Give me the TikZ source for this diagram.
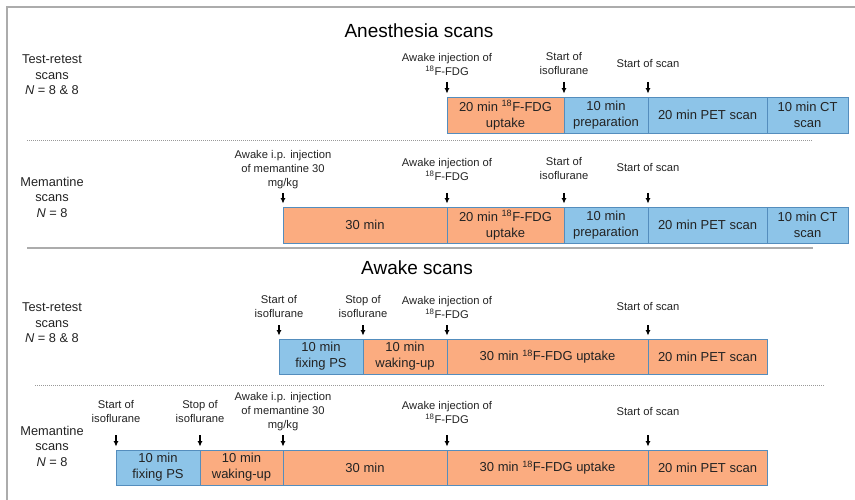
\documentclass[tikz,border=0pt]{standalone}
\usepackage{fontspec}
\setmainfont{Liberation Sans}
\usetikzlibrary{arrows.meta}

\definecolor{segorange}{RGB}{251,172,128}
\definecolor{segblue}{RGB}{141,196,232}
\definecolor{segline}{RGB}{84,141,189}
\definecolor{framegray}{RGB}{172,172,172}
\definecolor{inkgray}{RGB}{35,35,35}

\tikzset{
  seg/.style={draw=segline, line width=0.8pt, minimum height=36pt, inner sep=0pt,
    align=center, text=inkgray, font=\fontsize{13}{16}\selectfont},
  oseg/.style={seg, fill=segorange},
  bseg/.style={seg, fill=segblue},
  note/.style={align=center, inner sep=0pt, text=inkgray, font=\fontsize{11.2}{14}\selectfont},
  grp/.style={align=center, inner sep=0pt, text=inkgray, font=\fontsize{12.8}{15.5}\selectfont},
  hd/.style={inner sep=0pt, text=black, font=\fontsize{19}{22}\selectfont},
  tick/.style={-{Latex[length=5.5pt,width=5pt]}, line width=1.2pt, shorten >=3pt},
}

\newcommand{\fdg}{\textsuperscript{18}F-FDG}

\begin{document}
\begin{tikzpicture}[x=1pt,y=-1pt]
\useasboundingbox (0,0) rectangle (855,500);
% frame and separators
\draw[framegray, line width=1.6pt] (855,7) -- (7,7) -- (7,500);
\draw[framegray, line width=1.8pt] (27,248) -- (813,248);
\draw[gray!80, line width=0.6pt, dash pattern=on 1pt off 1pt] (27,140) -- (813,140);
\draw[gray!80, line width=0.6pt, dash pattern=on 1pt off 1pt] (35,385) -- (824,385);

% titles
\node[hd] (hanes) at (419,31) {Anesthesia scans};
\node[hd] (hawake) at (417,268) {Awake scans};

% group labels
\node[grp] (g1) at (52,75) {Test-retest\\scans\\\textit{N} = 8 \& 8};
\node[grp] (g2) at (52,197) {Memantine\\scans\\\textit{N} = 8};
\node[grp] (g3) at (52,323) {Test-retest\\scans\\\textit{N} = 8 \& 8};
\node[grp] (g4) at (52,446) {Memantine\\scans\\\textit{N} = 8};

% anesthesia, test-retest
\node[oseg, minimum width=117pt] (b11) at (505.5,115) {20 min \fdg\\uptake};
\node[bseg, minimum width=84pt] (b12) at (606,115) {10 min\\preparation};
\node[bseg, minimum width=119pt] (b13) at (707.5,115) {20 min PET scan};
\node[bseg, minimum width=81pt] (b14) at (807.5,115) {10 min CT\\scan};
\node[note] (n11) at (447,64) {Awake injection of\\\fdg};
\node[note] (n12) at (564,64) {Start of\\isoflurane};
\node[note] (n13) at (648,64) {Start of scan};
\coordinate (t11) at (447,82);
\coordinate (t12) at (564,82);
\coordinate (t13) at (648,82);
\draw[tick] (t11) -- (t11 |- b11.north);
\draw[tick] (t12) -- (t12 |- b12.north);
\draw[tick] (t13) -- (t13 |- b13.north);

% anesthesia, memantine
\node[oseg, minimum width=164pt] (b21) at (365,225) {30 min};
\node[oseg, minimum width=117pt] (b22) at (505.5,225) {20 min \fdg\\uptake};
\node[bseg, minimum width=84pt] (b23) at (606,225) {10 min\\preparation};
\node[bseg, minimum width=119pt] (b24) at (707.5,225) {20 min PET scan};
\node[bseg, minimum width=81pt] (b25) at (807.5,225) {10 min CT\\scan};
\node[note] (n21) at (283,170) {Awake i.p. injection\\of memantine 30\\mg/kg};
\node[note] (n22) at (447,169) {Awake injection of\\\fdg};
\node[note] (n23) at (564,169) {Start of\\isoflurane};
\node[note] (n24) at (648,168) {Start of scan};
\coordinate (t21) at (283,193);
\coordinate (t22) at (447,193);
\coordinate (t23) at (564,193);
\coordinate (t24) at (648,193);
\draw[tick] (t21) -- (t21 |- b21.north);
\draw[tick] (t22) -- (t22 |- b22.north);
\draw[tick] (t23) -- (t23 |- b23.north);
\draw[tick] (t24) -- (t24 |- b24.north);

% awake, test-retest
\node[bseg, minimum width=84pt, minimum height=35pt] (c11) at (321,356.5) {10 min\\fixing PS};
\node[oseg, minimum width=84pt, minimum height=35pt] (c12) at (405,356.5) {10 min\\waking-up};
\node[oseg, minimum width=201pt, minimum height=35pt] (c13) at (547.5,356.5) {30 min \fdg{} uptake};
\node[oseg, minimum width=119pt, minimum height=35pt] (c14) at (707.5,356.5) {20 min PET scan};
\node[note] (m11) at (279,307) {Start of\\isoflurane};
\node[note] (m12) at (363,307) {Stop of\\isoflurane};
\node[note] (m13) at (447,307) {Awake injection of\\\fdg};
\node[note] (m14) at (648,307) {Start of scan};
\coordinate (s11) at (279,325);
\coordinate (s12) at (363,325);
\coordinate (s13) at (447,325);
\coordinate (s14) at (648,325);
\draw[tick] (s11) -- (s11 |- c11.north);
\draw[tick] (s12) -- (s12 |- c12.north);
\draw[tick] (s13) -- (s13 |- c13.north);
\draw[tick] (s14) -- (s14 |- c14.north);

% awake, memantine
\node[bseg, minimum width=84pt, minimum height=35pt] (c21) at (158,467.5) {10 min\\fixing PS};
\node[oseg, minimum width=83pt, minimum height=35pt] (c22) at (241.5,467.5) {10 min\\waking-up};
\node[oseg, minimum width=164pt, minimum height=35pt] (c23) at (365,467.5) {30 min};
\node[oseg, minimum width=201pt, minimum height=35pt] (c24) at (547.5,467.5) {30 min \fdg{} uptake};
\node[oseg, minimum width=119pt, minimum height=35pt] (c25) at (707.5,467.5) {20 min PET scan};
\node[note] (m21) at (116,412) {Start of\\isoflurane};
\node[note] (m22) at (200,412) {Stop of\\isoflurane};
\node[note] (m23) at (283,412) {Awake i.p. injection\\of memantine 30\\mg/kg};
\node[note] (m24) at (447,412) {Awake injection of\\\fdg};
\node[note] (m25) at (648,412) {Start of scan};
\coordinate (s21) at (116,435);
\coordinate (s22) at (200,435);
\coordinate (s23) at (283,435);
\coordinate (s24) at (447,435);
\coordinate (s25) at (648,435);
\draw[tick] (s21) -- (s21 |- c21.north);
\draw[tick] (s22) -- (s22 |- c22.north);
\draw[tick] (s23) -- (s23 |- c23.north);
\draw[tick] (s24) -- (s24 |- c24.north);
\draw[tick] (s25) -- (s25 |- c25.north);
\end{tikzpicture}
\end{document}
